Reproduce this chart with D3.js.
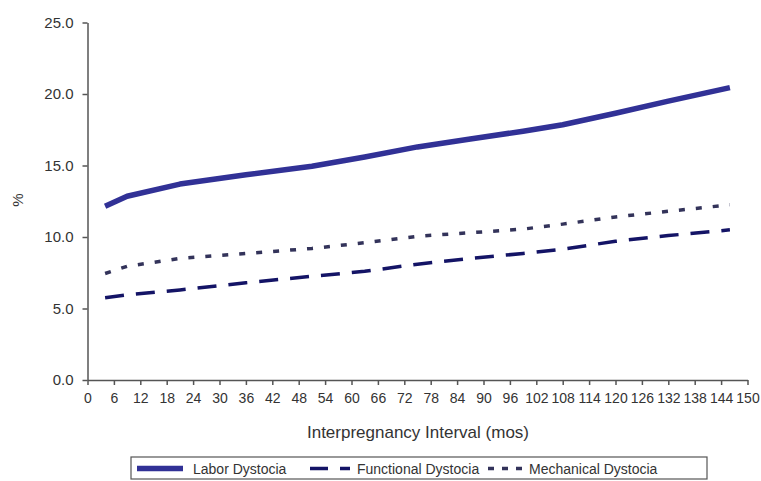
<!DOCTYPE html>
<html lang="en">
<head>
  <meta charset="UTF-8">
  <title>Dystocia by Interpregnancy Interval</title>
  <script src="https://d3js.org/d3.v7.min.js"></script>
  <style>
    body { margin: 0; background: #fff; }
    svg text { font-family: "Liberation Sans", Arial, sans-serif; fill: #333; }
    .axis path, .axis line { stroke: #555; stroke-width: 1.5px; }
    .axis text { font-size: 14px; fill: #333; }
  </style>
</head>
<body>
  <div id="chart"></div>

  <script>
    // values (interval in months, % with dystocia)
    const months = [4, 9, 21, 36, 51, 63, 75, 87, 99, 108, 120, 132, 146];
    const laborDystocia = [12.15, 12.85, 13.7, 14.35, 14.95, 15.6, 16.3, 16.85, 17.4, 17.85, 18.65, 19.5, 20.45];
    const functionalDystocia = [5.75, 5.95, 6.3, 6.8, 7.25, 7.6, 8.1, 8.5, 8.85, 9.15, 9.7, 10.1, 10.5];
    const mechanicalDystocia = [7.45, 7.95, 8.5, 8.85, 9.2, 9.6, 10.05, 10.3, 10.55, 10.9, 11.4, 11.8, 12.25];
    const xTicks = d3.range(0, 151, 6);
    const yTicks = [0, 5, 10, 15, 20, 25];

    const W = 761, H = 481;
    const plotLeft = 87.5, plotRight = 747.5, plotTop = 22.5, plotBottom = 380;

    const svg = d3.select("#chart").append("svg")
      .attr("width", W)
      .attr("height", H);

    const x = d3.scaleLinear().domain([0, 150]).range([plotLeft, plotRight]);
    const y = d3.scaleLinear().domain([0, 25]).range([plotBottom, plotTop]);

    svg.append("g")
      .attr("class", "axis")
      .attr("transform", `translate(0,${plotBottom})`)
      .call(d3.axisBottom(x).tickValues(xTicks).tickSize(5).tickSizeOuter(0).tickPadding(8))
      .selectAll("text")
      .style("font-size", "14px");

    svg.append("g")
      .attr("class", "axis")
      .attr("transform", `translate(${plotLeft},0)`)
      .call(d3.axisLeft(y).tickValues(yTicks).tickSize(5).tickSizeOuter(0).tickPadding(9)
        .tickFormat(d3.format(".1f")))
      .selectAll("text")
      .style("font-size", "15px");

    // axis titles
    svg.append("text")
      .attr("x", 418)
      .attr("y", 438)
      .attr("text-anchor", "middle")
      .style("font-size", "17px")
      .text("Interpregnancy Interval (mos)");

    svg.append("text")
      .attr("transform", "translate(23,200) rotate(-90)")
      .attr("text-anchor", "middle")
      .style("font-size", "15px")
      .text("%");

    const series = [
      { name: "Labor Dystocia", values: laborDystocia, color: "#313196", width: 5.5, dash: null },
      { name: "Functional Dystocia", values: functionalDystocia, color: "#141466", width: 3.5, dash: "19,12" },
      { name: "Mechanical Dystocia", values: mechanicalDystocia, color: "#33335a", width: 3.5, dash: "6,11" }
    ];

    const line = d3.line()
      .x((d, i) => x(months[i]))
      .y(d => y(d));

    series.forEach(s => {
      svg.append("path")
        .datum(s.values)
        .attr("fill", "none")
        .attr("stroke", s.color)
        .attr("stroke-width", s.width)
        .attr("stroke-dasharray", s.dash)
        .attr("stroke-linejoin", "round")
        .attr("d", line);
    });

    // legend
    const legend = svg.append("g");
    legend.append("rect")
      .attr("x", 131)
      .attr("y", 457)
      .attr("width", 576)
      .attr("height", 22)
      .attr("fill", "#fff")
      .attr("stroke", "#555")
      .attr("stroke-width", 1.2);

    const legendItems = [
      { lineX: 137, len: 46, textX: 193, dash: null },
      { lineX: 310, len: 40, textX: 357, dash: "18,12" },
      { lineX: 488, len: 34, textX: 529, dash: "6,8" }
    ];

    legendItems.forEach((it, i) => {
      const s = series[i];
      legend.append("line")
        .attr("x1", it.lineX)
        .attr("x2", it.lineX + it.len)
        .attr("y1", 468.5)
        .attr("y2", 468.5)
        .attr("stroke", s.color)
        .attr("stroke-width", s.width)
        .attr("stroke-dasharray", it.dash);
      legend.append("text")
        .attr("x", it.textX)
        .attr("y", 474)
        .style("font-size", "14px")
        .text(s.name);
    });
  </script>
</body>
</html>
